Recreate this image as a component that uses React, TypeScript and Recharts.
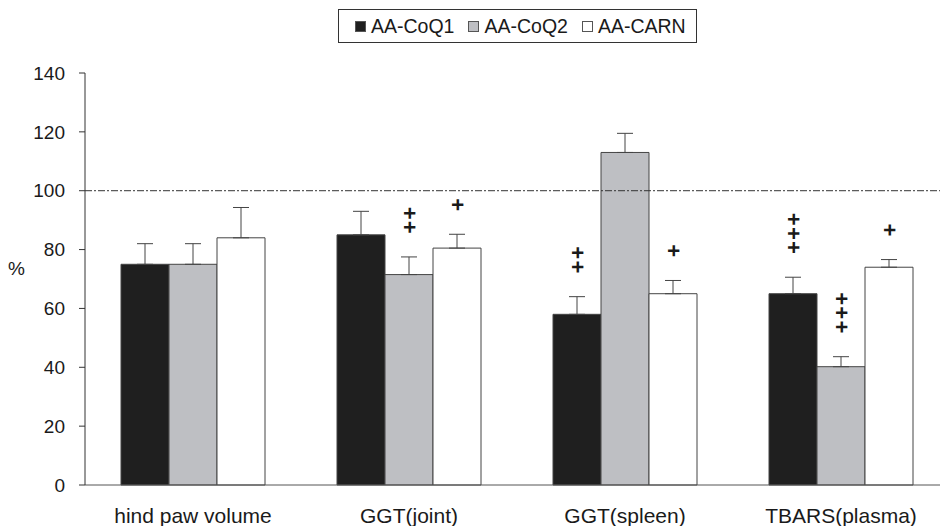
import { BarChart, Bar, XAxis, YAxis, ErrorBar, LabelList, ReferenceLine } from 'recharts';

const categories = ['hind paw volume', 'GGT(joint)', 'GGT(spleen)', 'TBARS(plasma)'];

const coq1 = [75, 85, 58, 65];
const coq1Err = [7, 8, 6, 5.6];
const coq1Marks = ['', '', '++', '+++'];

const coq2 = [75, 71.5, 113, 40.2];
const coq2Err = [7, 6, 6.5, 3.4];
const coq2Marks = ['', '++', '', '+++'];

const carn = [84, 80.5, 65, 74];
const carnErr = [10.3, 4.7, 4.5, 2.6];
const carnMarks = ['', '+', '+', '+'];

const yTicks = [0, 20, 40, 60, 80, 100, 120, 140];
const refValue = 100;

const FONT = '"Liberation Sans", Arial, sans-serif';
const INK = '#1a1a1a';

const series = [
  { key: 'coq1', name: 'AA-CoQ1', values: coq1, errors: coq1Err, marks: coq1Marks, fill: '#1f1f1f' },
  { key: 'coq2', name: 'AA-CoQ2', values: coq2, errors: coq2Err, marks: coq2Marks, fill: '#bebfc3' },
  { key: 'carn', name: 'AA-CARN', values: carn, errors: carnErr, marks: carnMarks, fill: '#ffffff' },
];

const data = categories.map((label, i) => {
  const row: Record<string, unknown> = { label };
  series.forEach((s) => {
    row[s.key] = s.values[i];
    row[s.key + 'Err'] = [0, s.errors[i]];
    row[s.key + 'Mark'] = s.marks[i];
  });
  return row;
});

const MARK_SIZE = 22;
const MARK_STEP = 14.2;

// the "+" signs are written as one vertical run above the error whisker
const markRenderer = (values: number[], errors: number[]) => (props: any) => {
  const { x, y, width, height, value, index } = props;
  if (!value) return null;
  const pxPerUnit = Number(height) / values[index];
  const errTop = Number(y) - errors[index] * pxPerUnit;
  const cx = Number(x) + Number(width) / 2;
  const n = String(value).length;
  const cy = errTop - 29 - ((n - 1) * MARK_STEP) / 2;
  return (
    <text
      x={cx}
      y={cy}
      textAnchor="middle"
      style={{ writingMode: 'vertical-rl', letterSpacing: MARK_STEP - 0.584 * MARK_SIZE }}
      fontFamily={FONT}
      fontSize={MARK_SIZE}
      fontWeight="bold"
      fill={INK}
    >
      {value}
    </text>
  );
};

const ChartLegend = () => (
  <div
    style={{
      position: 'absolute',
      left: 338,
      top: 9,
      width: 359,
      height: 34,
      boxSizing: 'border-box',
      border: '1px solid #333',
      display: 'flex',
      alignItems: 'center',
      paddingLeft: 16,
      fontFamily: FONT,
      fontSize: 19.5,
      color: INK,
      background: '#fff',
      whiteSpace: 'nowrap',
    }}
  >
    {series.map((s) => (
      <div key={s.key} style={{ display: 'flex', alignItems: 'center', marginRight: 14 }}>
        <span
          style={{
            display: 'inline-block',
            width: 11,
            height: 11,
            boxSizing: 'border-box',
            border: '1px solid #555',
            background: s.fill,
            marginRight: 5,
          }}
        />
        <span>{s.name}</span>
      </div>
    ))}
  </div>
);

export default function App() {
  return (
    <div style={{ position: 'absolute', left: 0, top: 0, width: 940, height: 526, overflow: 'hidden', background: '#fff' }}>
      <BarChart
        width={950}
        height={526}
        data={data}
        margin={{ top: 73, right: 1, left: 0, bottom: 0 }}
        barGap={0}
        barSize={48}
      >
        <XAxis
          dataKey="label"
          axisLine={{ stroke: '#555' }}
          tickLine={false}
          tickSize={0}
          tickMargin={23}
          height={41}
          tick={{ fontSize: 21, fill: INK, fontFamily: FONT }}
        />
        <YAxis
          domain={[0, 140]}
          ticks={yTicks}
          interval={0}
          width={85}
          tickSize={6}
          tickMargin={14}
          axisLine={{ stroke: '#333' }}
          tickLine={{ stroke: '#333' }}
          tick={{ fontSize: 19, fill: INK, fontFamily: FONT }}
          label={{ value: '%', position: 'insideLeft', offset: 8, dy: -11, fontSize: 19, fill: INK, fontFamily: FONT }}
        />
        {series.map((s) => (
          <Bar key={s.key} dataKey={s.key} name={s.name} fill={s.fill} stroke="#444" strokeWidth={1} isAnimationActive={false}>
            <ErrorBar dataKey={s.key + 'Err'} width={8} stroke="#444" strokeWidth={1} direction="y" />
            <LabelList dataKey={s.key + 'Mark'} content={markRenderer(s.values, s.errors)} />
          </Bar>
        ))}
        <ReferenceLine y={refValue} stroke="#333" strokeDasharray="7 2 2 2" strokeWidth={1} />
      </BarChart>
      <ChartLegend />
    </div>
  );
}
